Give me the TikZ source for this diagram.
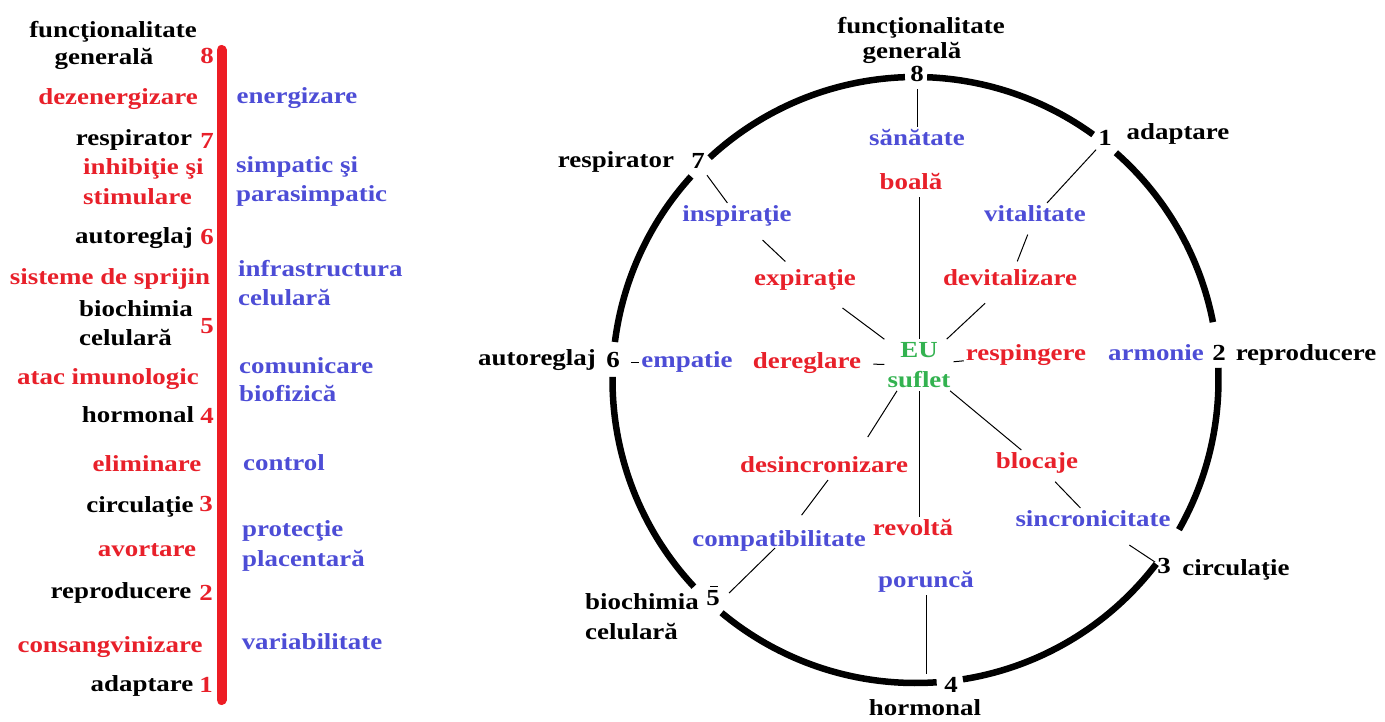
\documentclass[tikz,border=0pt]{standalone}
\usepackage{fontspec}
\setmainfont{Liberation Serif}[FakeStretch=1.17]
\usetikzlibrary{calc}
\definecolor{txtred}{RGB}{232,32,42}
\definecolor{txtblue}{RGB}{77,77,214}
\definecolor{txtgreen}{RGB}{51,178,80}
\definecolor{barred}{RGB}{237,28,36}

\begin{document}
\begin{tikzpicture}[x=1pt,y=-1pt,
  lbl/.style={font=\fontsize{23}{28}\selectfont\bfseries, inner sep=2pt,
              text height=16.6pt, text depth=5.1pt},
  blk/.style={lbl,text=black},
  rd/.style={lbl,text=txtred},
  bl/.style={lbl,text=txtblue},
  num/.style={lbl,text=black},
  rnum/.style={lbl,text=txtred},
  soul/.style={font=\fontsize{23}{28}\selectfont\bfseries, inner sep=3pt,
               align=center, text=txtgreen},
  spoke/.style={draw=black,line width=1pt},
  ring/.style={draw=black,line width=6.5pt},
]
\useasboundingbox (0,0) rectangle (1385,722);

% ---------------- left scale ----------------
\draw[barred, line width=10pt, line cap=round] (221.5,50) -- (221.5,700);

\node[blk] (lf1) at (113,32) {funcţionalitate};
\node[blk] (lf2) at (104,59) {generală};
\node[rnum] (l8) at (207,58) {8};
\node[rd] (ldez) at (118,99) {dezenergizare};
\node[bl] (lene) at (297,98) {energizare};
\node[blk] (lresp) at (134,140) {respirator};
\node[rnum] (l7) at (207,143) {7};
\node[rd, anchor=west] (linh1) at (81,169) {inhibiţie şi};
\node[rd, anchor=west] (linh2) at (81,199) {stimulare};
\node[bl, anchor=west] (lsim1) at (234,167) {simpatic şi};
\node[bl, anchor=west] (lsim2) at (234,196) {parasimpatic};
\node[blk] (laut) at (134,238) {autoreglaj};
\node[rnum] (l6) at (207,239) {6};
\node[rd] (lsis) at (110,279) {sisteme de sprijin};
\node[bl, anchor=west] (linf1) at (236,271) {infrastructura};
\node[bl, anchor=west] (linf2) at (236,300) {celulară};
\node[blk, anchor=west] (lbio1) at (77,311) {biochimia};
\node[blk, anchor=west] (lbio2) at (77,340) {celulară};
\node[rnum] (l5) at (207,328) {5};
\node[bl, anchor=west] (lcom1) at (237,368) {comunicare};
\node[bl, anchor=west] (lcom2) at (237,396) {biofizică};
\node[rd] (latac) at (108,379) {atac imunologic};
\node[blk] (lhor) at (138,417) {hormonal};
\node[rnum] (l4) at (207,418) {4};
\node[rd] (lelim) at (147,466) {eliminare};
\node[bl] (lctrl) at (284,465) {control};
\node[blk] (lcirc) at (140,507) {circulaţie};
\node[rnum] (l3) at (206,506) {3};
\node[bl, anchor=west] (lpro1) at (240,531) {protecţie};
\node[bl, anchor=west] (lpro2) at (240,561) {placentară};
\node[rd] (lavo) at (147,551) {avortare};
\node[blk] (lrep) at (121,593) {reproducere};
\node[rnum] (l2) at (206,595) {2};
\node[rd] (lcons) at (110,647) {consangvinizare};
\node[bl] (lvar) at (312,644) {variabilitate};
\node[blk] (lada) at (142,686) {adaptare};
\node[rnum] (l1) at (206,687) {1};

% ---------------- wheel ----------------
\coordinate (c) at (915.5,380);
\foreach \a/\b in {-87.8/-54.1, -48.6/-11.0, -2.3/29.6, 37.4/81.0,
                   86.0/129.8, 137.0/180.6, 187.2/222.2, 227.2/268.0}
  \draw[ring] ($(c)+(\a:303)$) arc[start angle=\a, end angle=\b, radius=303];

\node[blk] (rf1) at (921,28) {funcţionalitate};
\node[blk] (rf2) at (912,53) {generală};
\node[num] (n8) at (917,76) {8};
\node[bl] (sana) at (917,140) {sănătate};
\node[rd] (boala) at (911,184) {boală};
\node[blk] (rresp) at (616,162) {respirator};
\node[num] (n7) at (698,163) {7};
\node[bl] (insp) at (737,216) {inspiraţie};
\node[rd] (expir) at (805,280) {expiraţie};
\node[blk] (rada) at (1178,134) {adaptare};
\node[num] (n1) at (1105,140) {1};
\node[bl] (vital) at (1035,216) {vitalitate};
\node[rd] (devital) at (1010,280) {devitalizare};
\node[rd] (resping) at (1026,355) {respingere};
\node[bl] (armon) at (1156,355) {armonie};
\node[num] (n2) at (1219,355) {2};
\node[blk] (rrep) at (1306,355) {reproducere};
\node[blk] (raut) at (537,360) {autoreglaj};
\node[num] (n6) at (613,362) {6};
\node[bl] (empat) at (687,362) {empatie};
\node[rd] (deregl) at (807,363) {dereglare};
\node[soul] (eu) at (919,365) {EU\\[2pt]suflet};
\node[rd] (desync) at (824,467) {desincronizare};
\node[bl] (compat) at (779,541) {compatibilitate};
\node[num] (n5) at (713,600) {5};
\node[blk, anchor=west] (rbio1) at (583,604) {biochimia};
\node[blk, anchor=west] (rbio2) at (583,634) {celulară};
\node[rd] (revolta) at (913,530) {revoltă};
\node[bl] (porunca) at (926,582) {poruncă};
\node[num] (n4) at (951,687) {4};
\node[blk] (rhor) at (925,710) {hormonal};
\node[rd] (blocaje) at (1037,463) {blocaje};
\node[bl] (sincron) at (1093,521) {sincronicitate};
\node[num] (n3) at (1164,568) {3};
\node[blk] (rcirc) at (1236,570) {circulaţie};

% spokes
\draw[spoke] (n8) -- (sana);
\draw[spoke] (boala.south -| eu.north) -- (eu.north);
\draw[spoke] (n7) -- (insp);
\draw[spoke, shorten <=16pt, shorten >=8pt] (insp) -- (expir);
\draw[spoke, shorten <=25pt] (expir) -- (eu);
\draw[spoke] (n1) -- (vital);
\draw[spoke, shorten <=6pt, shorten >=6pt] (vital) -- (devital);
\draw[spoke, shorten <=15pt] (devital) -- (eu);
\draw[spoke] (eu) -- (resping);
\draw[spoke, shorten <=9pt] (n6) -- (empat);
\draw[spoke, shorten <=10pt] (deregl) -- (eu);
\draw[spoke, shorten >=20pt] ([xshift=-22pt]eu.south) -- ([xshift=33pt]desync.north);
\draw[spoke, shorten >=16pt] ([xshift=4pt]desync.south) -- ([xshift=13pt]compat.north);
\draw[spoke, shorten >=10pt] ([xshift=-4pt,yshift=6pt]compat.south) -- (n5.east);
\draw[spoke] (eu.south) -- (eu.south |- revolta.north);
\draw[spoke] (porunca.south) -- (porunca.south |- n4.north);
\draw[spoke] (eu) -- (blocaje);
\draw[spoke, shorten <=8pt] (blocaje) -- (sincron);
\draw[spoke, shorten <=20pt] (sincron) -- (n3);
\draw[spoke] ([xshift=-3pt]n5.north) -- ([xshift=5pt]n5.north);
\end{tikzpicture}
\end{document}
